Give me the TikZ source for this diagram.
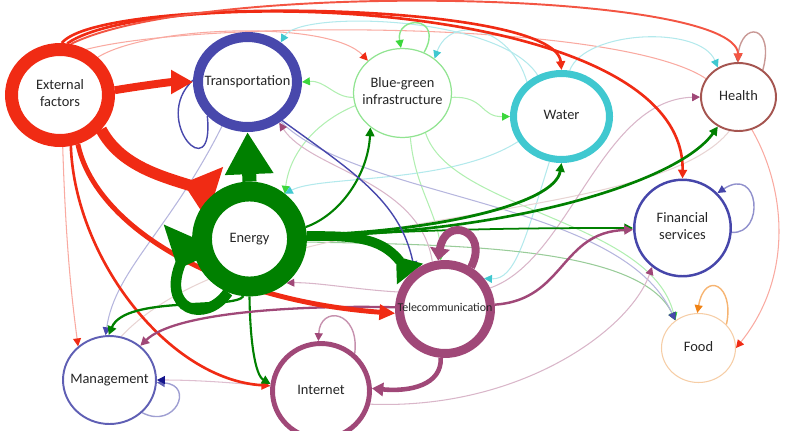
\documentclass[tikz,border=0pt]{standalone}
\usepackage{fontspec}
\setmainfont{Carlito}
\usepackage{tikz}
\usetikzlibrary{arrows.meta, shapes.geometric}

\definecolor{extred}{RGB}{240,43,20}
\definecolor{transblue}{RGB}{72,72,172}
\definecolor{energygreen}{RGB}{0,128,0}
\definecolor{bggreen}{RGB}{60,215,60}
\definecolor{bgring}{RGB}{145,228,145}
\definecolor{watercyan}{RGB}{64,200,208}
\definecolor{healthbrown}{RGB}{165,85,80}
\definecolor{finblue}{RGB}{70,70,170}
\definecolor{telepurple}{RGB}{160,72,120}
\definecolor{foodorange}{RGB}{240,130,20}
\definecolor{foodring}{RGB}{246,205,165}
\definecolor{mgmtblue}{RGB}{95,95,180}
\definecolor{navytip}{RGB}{20,20,140}

\pgfdeclarelayer{edges}
\pgfsetlayers{edges,main}

% text box of zero width so the ring keeps its own size
\newcommand{\secname}[1]{\makebox[0pt]{\begin{tabular}{@{}c@{}}#1\end{tabular}}}

\begin{document}
\begin{tikzpicture}[x=0.02cm, y=-0.02cm,
    sector/.style={ellipse, fill=white, inner sep=0pt, text=black!85,
                   font=\fontsize{8.2}{9.6}\selectfont},
    weak/.style={draw=#1!40, line width=0.6pt, -{Triangle[length=4.5pt,width=4.5pt,color=#1]}},
    firm/.style={draw=#1, line width=1.2pt, -{Triangle[length=5pt,width=5pt]}},
    selfloop/.style={draw=#1!60, line width=0.8pt, -{Triangle[length=4.5pt,width=4.5pt,color=#1]}},
]
\useasboundingbox (0,0) rectangle (795,430);

% sectors
\node[sector, draw=extred, line width=7.4pt, minimum width=1.94cm, minimum height=1.82cm] (ext) at (60,95) {\secname{External\\factors}};
\node[sector, draw=transblue, line width=5.7pt, minimum width=1.98cm, minimum height=1.80cm] (trans) at (247.5,82) {\secname{Transportation}};
\node[sector, draw=bgring, line width=0.7pt, minimum width=1.96cm, minimum height=1.78cm] (bg) at (402.5,93) {\secname{Blue-green\\infrastructure}};
\node[sector, draw=watercyan, line width=4pt, minimum width=1.92cm, minimum height=1.72cm] (water) at (561.5,116.5) {\secname{Water}};
\node[sector, draw=healthbrown, line width=1.1pt, minimum width=1.5cm, minimum height=1.36cm] (health) at (738.5,97) {\secname{Health}};
\node[sector, draw=energygreen, line width=11.3pt, minimum width=1.9cm, minimum height=1.9cm] (energy) at (249.5,239) {\secname{Energy}};
\node[sector, draw=finblue, line width=1.4pt, minimum width=1.93cm, minimum height=1.93cm] (fin) at (682.5,228) {\secname{Financial\\services}};
\node[sector, draw=telepurple, line width=5.1pt, minimum width=1.82cm, minimum height=1.78cm,
      font=\fontsize{6.8}{8}\selectfont] (tele) at (445,309) {\secname{Telecommunication}};
\node[sector, draw=foodring, line width=0.6pt, minimum width=1.48cm, minimum height=1.38cm] (food) at (698.5,348) {\secname{Food}};
\node[sector, draw=mgmtblue, line width=1.1pt, minimum width=1.86cm, minimum height=1.76cm] (mgmt) at (109.5,380) {\secname{Management}};
\node[sector, draw=telepurple, line width=2.8pt, minimum width=1.94cm, minimum height=1.9cm] (internet) at (321,391) {\secname{Internet}};

\begin{pgfonlayer}{edges}
% faint links
\draw[weak=extred] (ext.45) .. controls (150,25) and (330,20) .. (bg.137);
\draw[weak=extred] (ext.60) .. controls (200,20) and (600,20) .. (700,75) .. controls (770,115) and (815,250) .. (food.0);
\draw[weak=extred] (ext.-87) .. controls (66,250) and (72,300) .. (mgmt.133);
\draw[weak=watercyan] (water.120) .. controls (500,15) and (300,10) .. (trans.50);
\draw[weak=watercyan] (water.135) .. controls (510,25) and (450,15) .. (bg.47);
\draw[weak=watercyan] (water.80) .. controls (585,30) and (700,25) .. (health.125);
\draw[weak=watercyan] (water.-105) .. controls (525,240) and (515,280) .. (tele.38);
\draw[weak=bggreen] (bg.185) .. controls (335,98) and (325,80) .. (trans.0);
\draw[weak=bggreen] (bg.-5) .. controls (485,96) and (480,117) .. (water.180);
\draw[weak=bggreen] (bg.195) .. controls (320,120) and (290,150) .. (energy.52);
\draw[weak=watercyan] (water.-150) .. controls (450,185) and (320,175) .. (energy.52);
\draw[weak=bggreen] (bg.-80) .. controls (415,190) and (440,215) .. (tele.95);
\draw[weak=bggreen] (bg.-60) .. controls (450,210) and (650,220) .. (food.130);
\draw[weak=energygreen] (energy.-3) .. controls (450,245) and (640,245) .. (food.130);
\draw[weak=transblue] (trans.-50) .. controls (360,200) and (620,200) .. (food.130);
\draw[weak=transblue] (trans.-120) .. controls (170,230) and (115,270) .. (mgmt.95);
\draw[draw=healthbrown!25, line width=0.6pt] (health.-105) .. controls (650,230) and (250,200) .. (mgmt.75);
\draw[weak=telepurple] (tele.160) .. controls (360,290) and (315,282) .. (energy.-50);
\draw[weak=telepurple] (tele.105) .. controls (420,180) and (310,170) .. (trans.-52);
\draw[weak=telepurple] (tele.25) .. controls (570,260) and (600,100) .. (health.180);
\draw[weak=telepurple] (internet.-15) .. controls (520,410) and (630,330) .. (fin.-128);

% self loops
\draw[draw=transblue, line width=0.8pt] (trans.-140) .. controls (215,190) and (150,120) .. (trans.178);
\draw[selfloop=bggreen] (bg.62) .. controls (445,15) and (395,15) .. (bg.92);
\draw[selfloop=healthbrown] (health.48) .. controls (775,25) and (742,20) .. (health.92);
\draw[selfloop=finblue] (fin.-5) .. controls (765,235) and (760,165) .. (fin.45);
\draw[selfloop=foodorange] (food.40) .. controls (735,285) and (705,270) .. (food.92);
\draw[selfloop=telepurple] (internet.48) .. controls (360,310) and (320,305) .. (internet.93);
\draw[selfloop=mgmtblue] (mgmt.-45) .. controls (175,430) and (195,385) .. (mgmt.-3);
\draw[draw=telepurple!35, line width=0.6pt, -{Triangle[length=4.5pt,width=4.5pt,color=navytip]}]
    (internet.175) .. controls (230,382) and (190,380) .. (mgmt.0);

% stronger links
\draw[firm=extred, line width=1.5pt] (ext.88) .. controls (100,-5) and (555,0) .. (water.90);
\draw[firm=extred, line width=1.5pt] (ext.82) .. controls (150,-15) and (685,-5) .. (fin.90);
\draw[firm=extred!80, line width=1.1pt] (ext.78) .. controls (200,-20) and (735,-10) .. (health.90);
\draw[firm=extred, line width=1.5pt] (ext.-78) .. controls (75,260) and (170,380) .. (internet.174);
\draw[firm=energygreen] (energy.12) .. controls (340,215) and (368,175) .. (bg.-133);
\draw[firm=energygreen, line width=1.6pt] (energy.4) .. controls (430,232) and (555,205) .. (water.-90);
\draw[firm=energygreen, line width=1.5pt] (energy.3) .. controls (520,232) and (680,180) .. (health.-125);
\draw[firm=energygreen, line width=1pt] (energy.1) .. controls (420,228) and (560,228) .. (fin.180);
\draw[firm=energygreen, line width=1.3pt] (energy.-96) .. controls (235,310) and (125,295) .. (mgmt.91);
\draw[firm=energygreen, line width=1.2pt] (energy.-90) .. controls (250,340) and (255,375) .. (internet.172);
\draw[firm=telepurple, line width=1.3pt] (tele.178) .. controls (300,305) and (175,312) .. (mgmt.48);
\draw[firm=telepurple, line width=1.4pt] (tele.5) .. controls (565,300) and (560,232) .. (fin.182);
\draw[firm=transblue, line width=0.8pt] (trans.-48) .. controls (350,170) and (400,200) .. (tele.128);

% heavy links, some with wedge heads
\draw[extred, line width=2.8pt, -{Triangle[length=9pt,width=8.5pt]}] (ext.-70) .. controls (95,225) and (215,300) .. (tele.185);
\draw[extred, line width=4.5pt, -{Triangle[length=12.5pt,width=13pt]}] (ext.5) .. controls (140,86) and (170,82) .. (trans.180);
\draw[extred, line width=6.5pt, -{Triangle[reversed,length=19pt,width=30pt]}] (ext.-40) .. controls (120,165) and (160,176) .. (energy.127);
\draw[energygreen, line width=8pt, -{Triangle[length=24pt,width=26pt]}] (energy.90) -- (trans.-90);
\draw[energygreen, line width=5.5pt, -{Triangle[reversed,length=13pt,width=18pt]}] (energy.3) .. controls (350,236) and (380,236) .. (tele.135);
\draw[energygreen, line width=6pt, -{Triangle[reversed,length=20pt,width=34pt]}] (energy.-112) .. controls (205,325) and (160,310) .. (energy.178);
\draw[telepurple, line width=4.5pt, -{Triangle[length=7pt,width=11pt]}] (tele.58) .. controls (490,230) and (445,215) .. (tele.98);
\draw[telepurple, line width=2.6pt, -{Triangle[length=6.5pt,width=7.5pt]}] (tele.-95) .. controls (442,385) and (410,392) .. (internet.3);
\end{pgfonlayer}
\end{tikzpicture}
\end{document}
